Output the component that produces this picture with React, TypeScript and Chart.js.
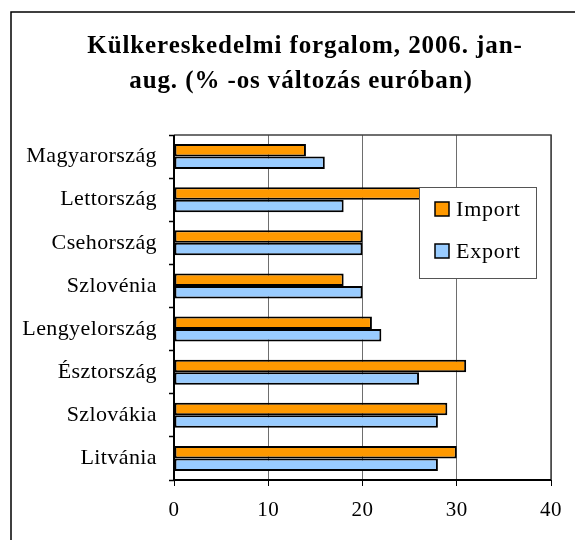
import React, { useEffect, useRef } from "react";
import { Chart, registerables } from "chart.js";

Chart.register(...registerables);

const categories = [
  "Magyarország",
  "Lettország",
  "Csehország",
  "Szlovénia",
  "Lengyelország",
  "Észtország",
  "Szlovákia",
  "Litvánia",
];
const importValues = [14, 33, 20, 18, 21, 31, 29, 30];
const exportValues = [16, 18, 20, 20, 22, 26, 28, 28];
const seriesNames = ["Import", "Export"];
const seriesColors = ["#FF9900", "#99CCFF"];
const titleLines = ["Külkereskedelmi forgalom, 2006. jan-", "aug. (% -os változás euróban)"];
const xMin = 0;
const xMax = 40;
const xStep = 10;

const FONT = "'Liberation Serif', 'Times New Roman', serif";

const framePlugin = {
  id: "frame",
  beforeDraw(chart: any) {
    const ctx = chart.ctx;
    ctx.save();
    ctx.fillStyle = "#ffffff";
    ctx.fillRect(0, 0, chart.width, chart.height);
    ctx.strokeStyle = "#000000";
    ctx.lineWidth = 1.5;
    ctx.beginPath();
    ctx.moveTo(11, chart.height + 2);
    ctx.lineTo(11, 12);
    ctx.lineTo(chart.width + 2, 12);
    ctx.stroke();
    // title
    ctx.fillStyle = "#000000";
    ctx.font = `bold 25px ${FONT}`;
    (ctx as any).letterSpacing = "0.9px";
    ctx.textAlign = "center";
    ctx.textBaseline = "alphabetic";
    ctx.fillText(titleLines[0], 305, 53);
    ctx.fillText(titleLines[1], 301, 88);
    ctx.restore();
    (ctx as any).letterSpacing = "0.4px";
  },
  afterDraw(chart: any) {
    const ctx = chart.ctx;
    const a = chart.chartArea;
    ctx.save();
    // plot border
    ctx.strokeStyle = "#404040";
    ctx.lineWidth = 1.5;
    ctx.beginPath();
    ctx.moveTo(a.left, a.top);
    ctx.lineTo(a.right, a.top);
    ctx.lineTo(a.right, a.bottom);
    ctx.stroke();
    ctx.strokeStyle = "#000000";
    ctx.lineWidth = 2;
    ctx.beginPath();
    ctx.moveTo(a.left, a.top);
    ctx.lineTo(a.left, a.bottom);
    ctx.lineTo(a.right, a.bottom);
    ctx.stroke();
    // legend
    const lx = 419, ly = 187, lw = 117, lh = 91;
    ctx.fillStyle = "#ffffff";
    ctx.fillRect(lx, ly, lw, lh);
    ctx.strokeStyle = "#555555";
    ctx.lineWidth = 1;
    ctx.strokeRect(lx + 0.5, ly + 0.5, lw, lh);
    const rows = [209, 251];
    seriesNames.forEach((name, i) => {
      const cy = rows[i];
      ctx.fillStyle = seriesColors[i];
      ctx.fillRect(435, cy - 7, 14, 14);
      ctx.strokeStyle = "#000000";
      ctx.lineWidth = 1.5;
      ctx.strokeRect(435, cy - 7, 14, 14);
      ctx.fillStyle = "#000000";
      ctx.font = `22px ${FONT}`;
      (ctx as any).letterSpacing = "0.8px";
      ctx.textAlign = "left";
      ctx.textBaseline = "middle";
      ctx.fillText(name, 456, cy + 1);
    });
    ctx.restore();
    (ctx as any).letterSpacing = "0px";
  },
};

export default function App() {
  const ref = useRef<HTMLCanvasElement | null>(null);
  useEffect(() => {
    if (!ref.current) return;
    const chart = new Chart(ref.current, {
      type: "bar",
      data: {
        labels: categories,
        datasets: [
          {
            label: seriesNames[0],
            data: importValues,
            backgroundColor: seriesColors[0],
            borderColor: "#000000",
            borderWidth: 2,
            borderSkipped: false,
            barPercentage: 1,
            categoryPercentage: 0.58,
          },
          {
            label: seriesNames[1],
            data: exportValues,
            backgroundColor: seriesColors[1],
            borderColor: "#000000",
            borderWidth: 2,
            borderSkipped: false,
            barPercentage: 1,
            categoryPercentage: 0.58,
          },
        ],
      },
      options: {
        indexAxis: "y",
        responsive: false,
        animation: false,
        layout: { padding: { top: 135, left: 0, right: 24, bottom: 0 } },
        plugins: {
          legend: { display: false },
          title: { display: false },
          tooltip: { enabled: false },
        },
        scales: {
          x: {
            type: "linear",
            min: xMin,
            max: xMax,
            ticks: {
              stepSize: xStep,
              color: "#000000",
              font: { family: FONT, size: 21 },
              padding: 12,
            },
            border: { display: false },
            grid: {
              color: "#6e6e6e",
              lineWidth: 1,
              tickColor: "#000000",
              tickLength: 6,
            },
            afterFit(scale: any) {
              scale.height = 60;
            },
          },
          y: {
            type: "category",
            ticks: {
              color: "#000000",
              font: { family: FONT, size: 22 },
              padding: 12,
            },
            border: { display: false },
            grid: {
              offset: true,
              drawOnChartArea: false,
              drawTicks: true,
              tickLength: 5,
              tickColor: "#000000",
              tickWidth: 1.5,
            },
            afterFit(scale: any) {
              scale.width = 174;
            },
          },
        },
      },
      plugins: [framePlugin],
    } as any);
    return () => chart.destroy();
  }, []);
  return (
    <div style={{ position: "fixed", left: 0, top: 0, width: 575, height: 540 }}>
      <canvas ref={ref} width={575} height={540} style={{ width: 575, height: 540 }} />
    </div>
  );
}
